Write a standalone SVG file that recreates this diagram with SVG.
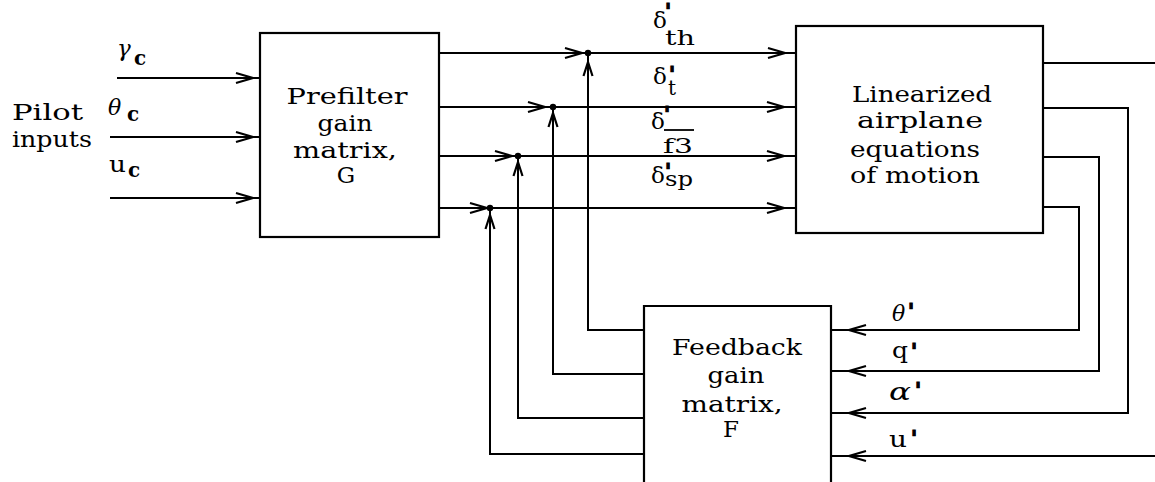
<svg xmlns="http://www.w3.org/2000/svg" xmlns:xlink="http://www.w3.org/1999/xlink" width="1155" height="482" viewBox="0 0 1155 482">
<defs>
<style>
.box{fill:none;stroke:#000;stroke-width:2.2}
.ln{fill:none;stroke:#000;stroke-width:2}
.ah{fill:none;stroke:#000;stroke-width:2.2;stroke-linejoin:miter}
.t{font-family:"DejaVu Serif","Liberation Serif",serif;font-size:23px;fill:#000}
.c{text-anchor:middle}
.d{font-family:"DejaVu Serif","Liberation Serif",serif;font-size:23px;fill:#000}
.s{font-family:"DejaVu Serif","Liberation Serif",serif;font-size:20px;fill:#000}
.it{font-style:italic}
.pr{font-family:"DejaVu Serif","Liberation Serif",serif;font-weight:bold;font-size:20px;fill:#000;stroke:#000;stroke-width:1.2}
.sub{font-family:"DejaVu Serif","Liberation Serif",serif;font-weight:bold;font-size:20px;fill:#000}
</style>
<path id="ar" class="ah" d="M-17,-5 L0,0 L-17,5"/>
<path id="ars" class="ah" d="M-14,-4.5 L0,0 L-14,4.5"/>
</defs>
<rect width="1155" height="482" fill="#fff"/>

<g id="connectors">
  <!-- pilot inputs -->
  <path class="ln" d="M117,78 H260 M110,137 H260 M110,198 H260"/>
  <use xlink:href="#ar" transform="translate(253,78)"/>
  <use xlink:href="#ar" transform="translate(253,137)"/>
  <use xlink:href="#ar" transform="translate(253,198)"/>
  <!-- prefilter outputs to airplane -->
  <path class="ln" d="M439,53 H797 M439,107 H797 M439,156 H797 M439,208 H797"/>
  <use xlink:href="#ar" transform="translate(582,53)"/>
  <use xlink:href="#ar" transform="translate(545,107)"/>
  <use xlink:href="#ar" transform="translate(512,156)"/>
  <use xlink:href="#ar" transform="translate(487,208)"/>
  <use xlink:href="#ar" transform="translate(785,53)"/>
  <use xlink:href="#ar" transform="translate(784,107)"/>
  <use xlink:href="#ar" transform="translate(784,156)"/>
  <use xlink:href="#ar" transform="translate(784,208)"/>
  <!-- feedback outputs to summing junctions -->
  <path class="ln" d="M644,330 H588 V53 M644,374 H553 V107 M644,418 H518 V156 M644,454 H490 V208"/>
  <use xlink:href="#ars" transform="translate(588,62) rotate(-90)"/>
  <use xlink:href="#ars" transform="translate(553,113) rotate(-90)"/>
  <use xlink:href="#ars" transform="translate(518,162) rotate(-90)"/>
  <use xlink:href="#ars" transform="translate(490,215) rotate(-90)"/>
  <circle cx="588" cy="53" r="3.2"/>
  <circle cx="553" cy="107" r="3.2"/>
  <circle cx="518" cy="156" r="3.2"/>
  <circle cx="490" cy="208" r="3.2"/>
  <!-- airplane outputs to feedback -->
  <path class="ln" d="M1043,63 H1155 M1043,108 H1128 V413 H831 M1043,157 H1099 V371 H831 M1043,207 H1079 V330 H831 M1155,456 H831"/>
  <use xlink:href="#ar" transform="translate(849,330) rotate(180)"/>
  <use xlink:href="#ar" transform="translate(849,371) rotate(180)"/>
  <use xlink:href="#ar" transform="translate(849,413) rotate(180)"/>
  <use xlink:href="#ar" transform="translate(849,456) rotate(180)"/>

  <!-- input labels -->
  <text class="t it" x="117" y="56" style="font-size:23px">γ</text>
  <text class="sub" x="134" y="65">c</text>
  <text class="t it" x="108" y="115" style="font-size:22px">θ</text>
  <text class="sub" x="127" y="121">c</text>
  <text class="t" x="109" y="172" style="font-size:23px" textLength="17" lengthAdjust="spacingAndGlyphs">u</text>
  <text class="sub" x="128" y="177">c</text>

  <!-- delta labels -->
  <text class="d" x="653" y="28">δ</text>
  <text class="pr" x="665" y="18">'</text>
  <text class="s" x="665" y="45" textLength="30" lengthAdjust="spacingAndGlyphs">th</text>

  <text class="d" x="653" y="84">δ</text>
  <text class="pr" x="669" y="81">'</text>
  <text class="s" x="668" y="95">t</text>

  <text class="d" x="651" y="129">δ</text>
  <text class="pr" x="664" y="121">'</text>
  <line class="ln" x1="664" y1="130" x2="694" y2="130" style="stroke-width:1.8"/>
  <text class="s" x="663" y="153" textLength="30" lengthAdjust="spacingAndGlyphs">f3</text>

  <text class="d" x="651" y="183">δ</text>
  <text class="pr" x="665" y="178">'</text>
  <text class="s" x="665" y="186" textLength="28" lengthAdjust="spacingAndGlyphs">sp</text>

  <!-- feedback signal labels -->
  <text class="t it" x="892" y="321" style="font-size:22px">θ</text>
  <text class="pr" x="908" y="318">'</text>
  <text class="t" x="892" y="358" style="font-size:22px" textLength="16" lengthAdjust="spacingAndGlyphs">q</text>
  <text class="pr" x="911" y="358">'</text>
  <text class="t it" x="889" y="400" style="font-size:24px" textLength="22" lengthAdjust="spacingAndGlyphs">α</text>
  <text class="pr" x="915" y="397">'</text>
  <text class="t" x="889" y="447" style="font-size:22px" textLength="18" lengthAdjust="spacingAndGlyphs">u</text>
  <text class="pr" x="911" y="445">'</text>

  <!-- pilot inputs -->
  <text class="t" x="12" y="120" textLength="71" lengthAdjust="spacingAndGlyphs">Pilot</text>
  <text class="t" x="12" y="147" textLength="80" lengthAdjust="spacingAndGlyphs">inputs</text>
</g>

<g id="prefilter">
  <rect class="box" x="260" y="33" width="179" height="204"/>
  <text class="t c" x="347" y="104" textLength="121" lengthAdjust="spacingAndGlyphs">Prefilter</text>
  <text class="t c" x="345" y="131" textLength="55" lengthAdjust="spacingAndGlyphs">gain</text>
  <text class="t c" x="345" y="158" textLength="104" lengthAdjust="spacingAndGlyphs">matrix,</text>
  <text class="t c" x="346" y="183">G</text>
</g>

<g id="airplane">
  <rect class="box" x="796" y="26" width="247" height="207"/>
  <text class="t c" x="922" y="102" textLength="140" lengthAdjust="spacingAndGlyphs">Linearized</text>
  <text class="t c" x="920" y="128" textLength="126" lengthAdjust="spacingAndGlyphs">airplane</text>
  <text class="t c" x="915" y="157" textLength="130" lengthAdjust="spacingAndGlyphs">equations</text>
  <text class="t c" x="915" y="183" textLength="130" lengthAdjust="spacingAndGlyphs">of motion</text>
</g>

<g id="feedback">
  <path class="box" d="M644,484 V306 H831 V484"/>
  <text class="t c" x="737" y="355" textLength="130" lengthAdjust="spacingAndGlyphs">Feedback</text>
  <text class="t c" x="736" y="383" textLength="57" lengthAdjust="spacingAndGlyphs">gain</text>
  <text class="t c" x="732" y="412" textLength="101" lengthAdjust="spacingAndGlyphs">matrix,</text>
  <text class="t c" x="731" y="437">F</text>
</g>
</svg>
